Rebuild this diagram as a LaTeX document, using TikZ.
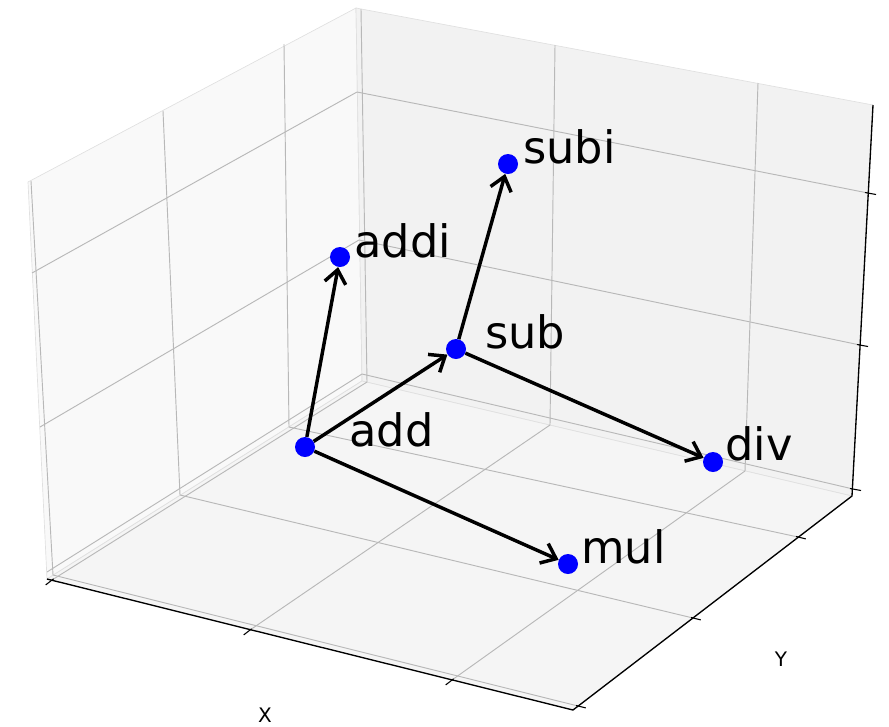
\documentclass[tikz,border=0pt]{standalone}
\usepackage{fontspec}
\setmainfont{DejaVu Sans}
\usetikzlibrary{arrows.meta}
\definecolor{xpane}{gray}{0.975}
\definecolor{ypane}{gray}{0.95}
\definecolor{zpane}{gray}{0.9625}
\definecolor{paneedge}{gray}{0.88}
\definecolor{gridgray}{gray}{0.72}
\tikzset{
  gridline/.style={gridgray, line width=0.7pt},
  axisline/.style={black, line width=1pt},
  tickmark/.style={black, line width=0.8pt},
  op/.style={circle, fill=blue, inner sep=0pt, minimum size=15pt},
  oplabel/.style={anchor=base west, inner sep=0pt, font=\fontsize{33.5}{40}\selectfont},
  axislabel/.style={inner sep=0pt, font=\fontsize{15}{18}\selectfont},
  flow/.style={-{Straight Barb[length=10pt,width=16pt]}, line width=2.6pt}
}
\begin{document}
\begin{tikzpicture}[x=0.75pt, y=-0.75pt]
    \useasboundingbox (0,0) rectangle (889,726);

    % Box corners
    \coordinate (L) at (47,579);
    \coordinate (F) at (573,710);
    \coordinate (R) at (852,496);
    \coordinate (B) at (362,381);
    \coordinate (TL) at (28,182);
    \coordinate (TB) at (356,8);
    \coordinate (TR) at (873,105);

    % Panes
    \filldraw[fill=xpane, draw=paneedge, line width=0.5pt] (L) -- (TL) -- (TB) -- (B) -- cycle;
    \filldraw[fill=ypane, draw=paneedge, line width=0.5pt] (B) -- (TB) -- (TR) -- (R) -- cycle;
    \filldraw[fill=zpane, draw=paneedge, line width=0.5pt] (L) -- (B) -- (R) -- (F) -- cycle;

    % Grid: floor
    \foreach \xa/\ya/\xb/\yb in {52/580/367/382, 250/630/550/425, 452/680/745/471,
                                 53/575/578/706, 180/495/693/618, 289/427/798/537}
        \draw[gridline] (\xa,\ya) -- (\xb,\yb);
    % Grid: left pane
    \foreach \xa/\ya/\xb/\yb in {53/575/31/181, 180/495/163/111, 289/427/284/44,
                                 47/572/362/374, 40/427/359/240, 32/273/357/92}
        \draw[gridline] (\xa,\ya) -- (\xb,\yb);
    % Grid: back pane
    \foreach \xa/\ya/\xb/\yb in {367/382/361/9, 550/425/555/45, 745/471/758/83,
                                 362/374/853/489, 359/240/860/345, 357/92/868/193}
        \draw[gridline] (\xa,\ya) -- (\xb,\yb);

    % Axes
    \draw[axisline] (L) -- (F) -- (R) -- (TR);
    \foreach \px/\py in {52/580, 250/630, 452/680}
        \draw[tickmark] (\px,\py) ++(1.6,-1.2) -- ++(-7.9,6.1);
    \foreach \px/\py in {578/706, 693/618, 798/537}
        \draw[tickmark] (\px,\py) ++(-1.9,-0.5) -- ++(9.7,2.4);
    \foreach \px/\py in {853/489, 860/345, 868/193}
        \draw[tickmark] (\px,\py) ++(-3,-0.5) -- ++(11,2);
    \node[axislabel] (xlabel) at (265,715) {X};
    \node[axislabel] (ylabel) at (781,659) {Y};

    % Operations
    \node[op] (add) at (305,447) {};
    \node[op] (addi) at (340,257) {};
    \node[op] (sub) at (456,349) {};
    \node[op] (subi) at (508,164) {};
    \node[op] (div) at (713,462) {};
    \node[op] (mul) at (568,564) {};

    \node[oplabel] (add-text) at (349,446) {add};
    \node[oplabel] (addi-text) at (354,257) {addi};
    \node[oplabel] (sub-text) at (485,348) {sub};
    \node[oplabel] (subi-text) at (523,163) {subi};
    \node[oplabel] (div-text) at (725,460) {div};
    \node[oplabel] (mul-text) at (581,563) {mul};

    % Transitions
    \draw[flow] (add) -- (addi);
    \draw[flow] (add) -- (sub);
    \draw[flow] (add) -- (mul);
    \draw[flow] (sub) -- (subi);
    \draw[flow] (sub) -- (div);
\end{tikzpicture}
\end{document}
